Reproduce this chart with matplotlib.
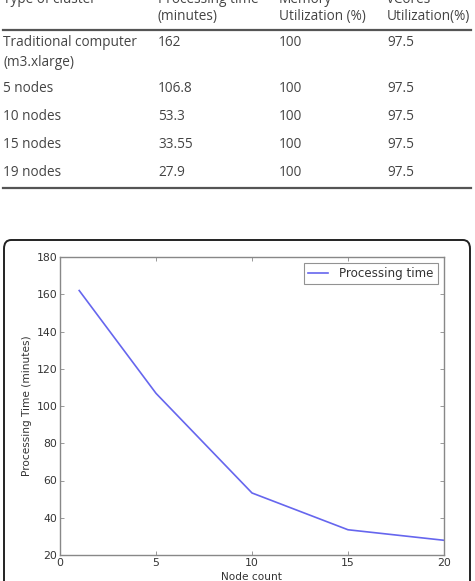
import numpy as np
import matplotlib
matplotlib.use("Agg")
import matplotlib.pyplot as plt
from matplotlib.patches import FancyBboxPatch

# table contents
headers = ["Type of cluster", "Processing time\n(minutes)", "Memory\nUtilization (%)", "vCores\nUtilization(%)"]
clusters = ["Traditional computer\n(m3.xlarge)", "5 nodes", "10 nodes", "15 nodes", "19 nodes"]
proc_times = ["162", "106.8", "53.3", "33.55", "27.9"]
memory_util = ["100", "100", "100", "100", "100"]
vcores_util = ["97.5", "97.5", "97.5", "97.5", "97.5"]

# chart data
node_count = [1, 5, 10, 15, 20]
proc_minutes = [162, 106.8, 53.3, 33.55, 27.9]

W, H = 475, 581
fig = plt.figure(figsize=(W / 100, H / 100), dpi=100)

def fx(px):
    return px / W

def fy(py):
    return 1 - py / H

tcol = "#444444"
tfont = dict(family="Open Sans", fontsize=9.8, color=tcol)
col_x = [3, 158, 279, 387]

def cell(x, y, s, step=19):
    # one text per line
    for i, line in enumerate(s.split("\n")):
        fig.text(fx(x), fy(y + step * i), line, ha="left", va="center", **tfont)

# header (first line is cut off at the top of the page)
for x, h in zip(col_x, headers):
    cell(x, -0.5, h, step=17)
fig.add_artist(plt.Line2D([fx(3), fx(471)], [fy(30), fy(30)], color="#555555", lw=1.6))

row_y = [43, 89, 117, 145, 173]
for y, c, p, m, v in zip(row_y, clusters, proc_times, memory_util, vcores_util):
    for x, s in zip(col_x, [c, p, m, v]):
        cell(x, y, s)
fig.add_artist(plt.Line2D([fx(3), fx(471)], [fy(188), fy(188)], color="#555555", lw=1.6))

# rounded box around the chart
box = FancyBboxPatch((fx(4), fy(600)), fx(466), fy(240) - fy(600),
                     boxstyle="round,pad=0,rounding_size=0.015",
                     transform=fig.transFigure, fill=False, ec="#222222", lw=1.4)
fig.add_artist(box)

ax = fig.add_axes([fx(60), fy(555), fx(444) - fx(60), fy(257) - fy(555)])
ax.plot(node_count, proc_minutes, color="#6666ee", lw=1.2, label="Processing time")
ax.set_xlim(0, 20)
ax.set_ylim(20, 180)
ax.set_xticks([0, 5, 10, 15, 20])
ax.set_yticks(np.arange(20, 181, 20))
ax.tick_params(direction="in", top=True, right=True, length=3, width=0.6,
               labelsize=7.8, labelcolor="#333333", color="#888888", pad=2)
for s in ax.spines.values():
    s.set_color("#888888")
    s.set_linewidth(1.0)
ax.set_xlabel("Node count", fontsize=7.6, color="#333333", labelpad=3)
ax.set_ylabel("Processing Time (minutes)", fontsize=7.6, color="#333333", labelpad=3)
leg = ax.legend(loc="upper right", fontsize=8.6, fancybox=False, borderaxespad=0.5,
                handlelength=1.6, handletextpad=1.0, borderpad=0.35)
leg.get_frame().set_edgecolor("#777777")
leg.get_frame().set_linewidth(0.8)
for t in leg.get_texts():
    t.set_color("#333333")

fig.savefig("out.png", dpi=100)
